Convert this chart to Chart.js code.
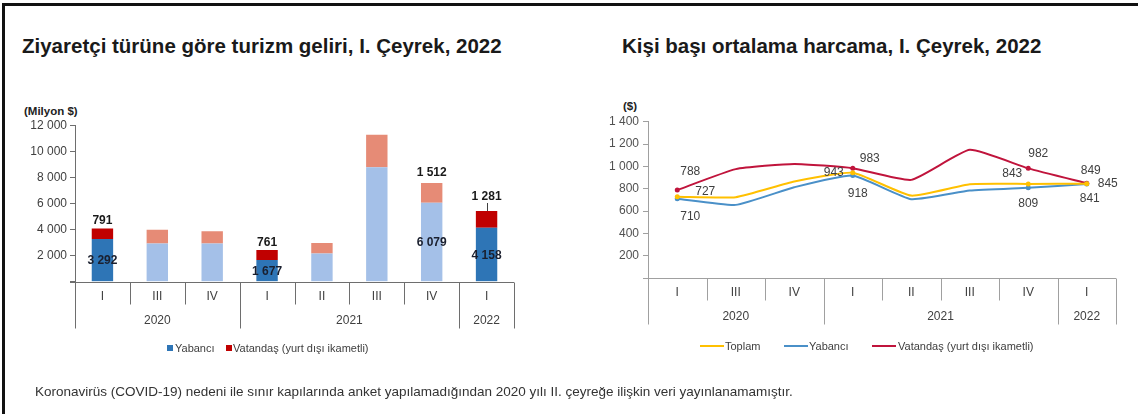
<!DOCTYPE html>
<html><head><meta charset="utf-8">
<script src="https://cdn.jsdelivr.net/npm/chart.js@4.4.1/dist/chart.umd.min.js"></script>
<style>
html,body{margin:0;padding:0;background:#fff;}
body{width:1138px;height:414px;overflow:hidden;position:relative;font-family:"Liberation Sans",Arial,sans-serif;}
#frame{position:absolute;left:2px;top:3px;width:1200px;height:500px;border-left:3px solid #111;border-top:3px solid #111;}
.t{position:absolute;white-space:nowrap;line-height:1;}
.title{font-size:20.5px;font-weight:bold;color:#1a1a1a;}
.unit{font-size:11.5px;font-weight:bold;color:#222;}
.leg{font-size:11px;color:#404040;}
.sq{position:absolute;width:6px;height:6px;}
.ln{position:absolute;height:2px;width:24px;}
canvas{position:absolute;top:0;}
</style></head>
<body>
<div id="frame"></div>
<div class="t title" style="left:22px;top:36px;">Ziyaretçi türüne göre turizm geliri, I. Çeyrek, 2022</div>
<div class="t title" style="left:622px;top:36px;">Kişi başı ortalama harcama, I. Çeyrek, 2022</div>
<div class="t unit" style="left:24px;top:106px;">(Milyon $)</div>
<div class="t unit" style="left:623px;top:101px;">($)</div>
<div style="position:absolute;left:0;top:0;width:570px;height:414px;"><canvas id="c1" width="570" height="414" style="left:0;"></canvas></div>
<div style="position:absolute;left:570px;top:0;width:568px;height:414px;"><canvas id="c2" width="568" height="414" style="left:0;"></canvas></div>
<div class="sq" style="left:167px;top:345px;background:#2e75b6;"></div>
<div class="t leg" style="left:175px;top:343px;">Yabancı</div>
<div class="sq" style="left:226px;top:345px;background:#c00000;"></div>
<div class="t leg" style="left:233px;top:343px;">Vatandaş (yurt dışı ikametli)</div>
<div class="ln" style="left:700px;top:345px;background:#ffc000;"></div>
<div class="t leg" style="left:725px;top:341px;">Toplam</div>
<div class="ln" style="left:784px;top:345px;background:#4a90c8;"></div>
<div class="t leg" style="left:809px;top:341px;">Yabancı</div>
<div class="ln" style="left:872px;top:345px;background:#c0143c;"></div>
<div class="t leg" style="left:898px;top:341px;">Vatandaş (yurt dışı ikametli)</div>
<div class="t" style="left:35px;top:385px;font-size:13.5px;color:#333;">Koronavirüs (COVID-19) nedeni ile sınır kapılarında anket yapılamadığından 2020 yılı II. çeyreğe ilişkin veri yayınlanamamıştır.</div>
<script>
// ---- data ----
const quarters = ['I','III','IV','I','II','III','IV','I'];
const years = ['2020','2021','2022'];
const quartersPerYear = [3,4,1];
const revenueForeign = [3292, 2930, 2930, 1677, 2160, 8800, 6079, 4158];
const revenueCitizen = [791, 1070, 950, 761, 825, 2500, 1512, 1281];
const spendTotal   = [727, 724, 864, 943, 738, 840, 843, 845];
const spendForeign = [710, 655, 813, 918, 706, 783, 809, 841];
const spendCitizen = [788, 975, 1022, 983, 879, 1148, 982, 849];
const revenueTicks = [0, 2000, 4000, 6000, 8000, 10000, 12000];
const spendTicks = [0, 200, 400, 600, 800, 1000, 1200, 1400];

// ---- helpers ----
const FONT = '"Liberation Sans", Arial, sans-serif';
const fmt = v => String(v).replace(/\B(?=(\d{3})+(?!\d))/g, ' ');
const labeledIdx = [0, 3, 6, 7];
const highlightIdx = [0, 3, 7];

function groupAxisPlugin(axisColor, shortLen, longLen, stub) {
  return {
    id: 'groupAxis',
    afterDraw(chart) {
      const ctx = chart.ctx, xs = chart.scales.x, ca = chart.chartArea;
      const n = quarters.length;
      const step = xs.getPixelForValue(1) - xs.getPixelForValue(0);
      const half = step / 2;
      const y0 = Math.round(ca.bottom) + 0.5;
      ctx.save();
      ctx.strokeStyle = axisColor; ctx.lineWidth = 1;
      ctx.beginPath();
      ctx.moveTo(ca.left - stub, y0); ctx.lineTo(xs.getPixelForValue(n - 1) + half, y0);
      ctx.stroke();
      const yearBounds = new Set([0]);
      let acc = 0; quartersPerYear.forEach(q => { acc += q; yearBounds.add(acc); });
      for (let i = 0; i <= n; i++) {
        const bx = Math.round(i < n ? xs.getPixelForValue(i) - half : xs.getPixelForValue(n - 1) + half) + 0.5;
        const len = yearBounds.has(i) ? longLen : shortLen;
        ctx.beginPath(); ctx.moveTo(bx, y0); ctx.lineTo(bx, y0 + len); ctx.stroke();
      }
      ctx.fillStyle = '#404040';
      ctx.font = '12px ' + FONT;
      ctx.textAlign = 'center'; ctx.textBaseline = 'middle';
      quarters.forEach((q, i) => ctx.fillText(q, xs.getPixelForValue(i), y0 + 14));
      let start = 0;
      years.forEach((y, k) => {
        const end = start + quartersPerYear[k] - 1;
        const cx = (xs.getPixelForValue(start) + xs.getPixelForValue(end)) / 2;
        ctx.fillText(y, cx, y0 + 38);
        start = end + 1;
      });
      ctx.restore();
    }
  };
}

// ---- bar chart ----
const barLabels = {
  id: 'barLabels',
  afterDatasetsDraw(chart) {
    const ctx = chart.ctx;
    const m0 = chart.getDatasetMeta(0), m1 = chart.getDatasetMeta(1);
    const topOff = {0: 8, 3: 7, 6: 10, 7: 14};
    ctx.save();
    ctx.font = 'bold 12px ' + FONT;
    ctx.textAlign = 'center'; ctx.textBaseline = 'middle';
    labeledIdx.forEach(i => {
      const b0 = m0.data[i], b1 = m1.data[i];
      ctx.fillStyle = '#1a1f2e';
      ctx.fillText(fmt(revenueForeign[i]), b0.x, (b0.y + b0.base) / 2 + 1);
      ctx.fillStyle = '#1a1a1a';
      const ty = b1.y - topOff[i];
      ctx.fillText(fmt(revenueCitizen[i]), b1.x, ty);
      if (i === 7) {
        ctx.strokeStyle = '#404040'; ctx.lineWidth = 1;
        ctx.beginPath(); ctx.moveTo(Math.round(b1.x) + 0.5, ty + 6); ctx.lineTo(Math.round(b1.x) + 0.5, b1.y); ctx.stroke();
      }
    });
    ctx.restore();
  }
};

new Chart(document.getElementById('c1'), {
  type: 'bar',
  data: {
    labels: quarters,
    datasets: [
      { label: 'Yabancı', data: revenueForeign,
        backgroundColor: quarters.map((_, i) => highlightIdx.includes(i) ? '#2e75b6' : '#a4c0e8') },
      { label: 'Vatandaş (yurt dışı ikametli)', data: revenueCitizen,
        backgroundColor: quarters.map((_, i) => highlightIdx.includes(i) ? '#c00000' : '#e68b76') }
    ]
  },
  options: {
    responsive: false, animation: false, devicePixelRatio: 1,
    layout: { padding: { left: 0, right: 56, top: 125.7, bottom: 132.3 } },
    plugins: { legend: { display: false }, tooltip: { enabled: false } },
    datasets: { bar: { categoryPercentage: 1, barPercentage: 0.39 } },
    scales: {
      x: { stacked: true, display: false, offset: true },
      y: {
        stacked: true, min: 0, max: 12000,
        afterFit: s => { s.width = 75; },
        afterBuildTicks: s => { s.ticks = revenueTicks.map(v => ({ value: v })); },
        ticks: { callback: v => v === 0 ? '' : fmt(v), color: '#404040', font: { size: 12, family: FONT }, padding: 3 },
        grid: { drawOnChartArea: false, drawTicks: true, tickLength: 5, color: '#6e6e6e' },
        border: { display: true, color: '#6e6e6e' }
      }
    }
  },
  plugins: [groupAxisPlugin('#6e6e6e', 22, 46, 5), barLabels]
});

// ---- line chart ----
const lineLabelPos = {
  // dataset index -> label index -> [dx, dy, align]
  0: { 0: [18, -5, 'left'], 3: [-9, 0, 'right'], 6: [-16, -10, 'center'], 7: [11, 0, 'left'] },
  1: { 0: [13, 18, 'center'], 3: [5, 18, 'center'], 6: [0, 16, 'center'], 7: [3, 15, 'center'] },
  2: { 0: [13, -18, 'center'], 3: [17, -10, 'center'], 6: [10, -15, 'center'], 7: [4, -13, 'center'] }
};
const lineLabels = {
  id: 'lineLabels',
  afterDatasetsDraw(chart) {
    const ctx = chart.ctx;
    ctx.save();
    ctx.font = '12px ' + FONT;
    ctx.fillStyle = '#404040';
    ctx.textBaseline = 'middle';
    chart.data.datasets.forEach((ds, d) => {
      const meta = chart.getDatasetMeta(d);
      Object.keys(lineLabelPos[d]).forEach(k => {
        const i = +k, p = lineLabelPos[d][k], pt = meta.data[i];
        ctx.textAlign = p[2];
        ctx.fillText(fmt(ds.data[i]), pt.x + p[0], pt.y + p[1]);
      });
    });
    ctx.restore();
  }
};
const markerRadius = quarters.map((_, i) => labeledIdx.includes(i) ? 2.5 : 0);

new Chart(document.getElementById('c2'), {
  type: 'line',
  data: {
    labels: quarters,
    datasets: [
      { label: 'Toplam', data: spendTotal, borderColor: '#ffc000', backgroundColor: '#ffc000' },
      { label: 'Yabancı', data: spendForeign, borderColor: '#4a90c8', backgroundColor: '#4a90c8' },
      { label: 'Vatandaş (yurt dışı ikametli)', data: spendCitizen, borderColor: '#c0143c', backgroundColor: '#c0143c' }
    ]
  },
  options: {
    responsive: false, animation: false, devicePixelRatio: 1,
    layout: { padding: { left: 0, right: 22, top: 121.7, bottom: 136 } },
    plugins: { legend: { display: false }, tooltip: { enabled: false } },
    elements: {
      line: { borderWidth: 2, tension: 0.15 },
      point: { radius: markerRadius, pointStyle: 'circle', borderWidth: 0 }
    },
    scales: {
      x: { display: false, offset: true },
      y: {
        min: 0, max: 1400,
        afterFit: s => { s.width = 78; },
        afterBuildTicks: s => { s.ticks = spendTicks.map(v => ({ value: v })); },
        ticks: { callback: v => v === 0 ? '' : fmt(v), color: '#505050', font: { size: 12, family: FONT }, padding: 4 },
        grid: { drawOnChartArea: false, drawTicks: true, tickLength: 5, color: '#a0a0a0' },
        border: { display: true, color: '#a0a0a0' }
      }
    }
  },
  plugins: [groupAxisPlugin('#a0a0a0', 22, 46, 5), lineLabels]
});
</script>
</body></html>
